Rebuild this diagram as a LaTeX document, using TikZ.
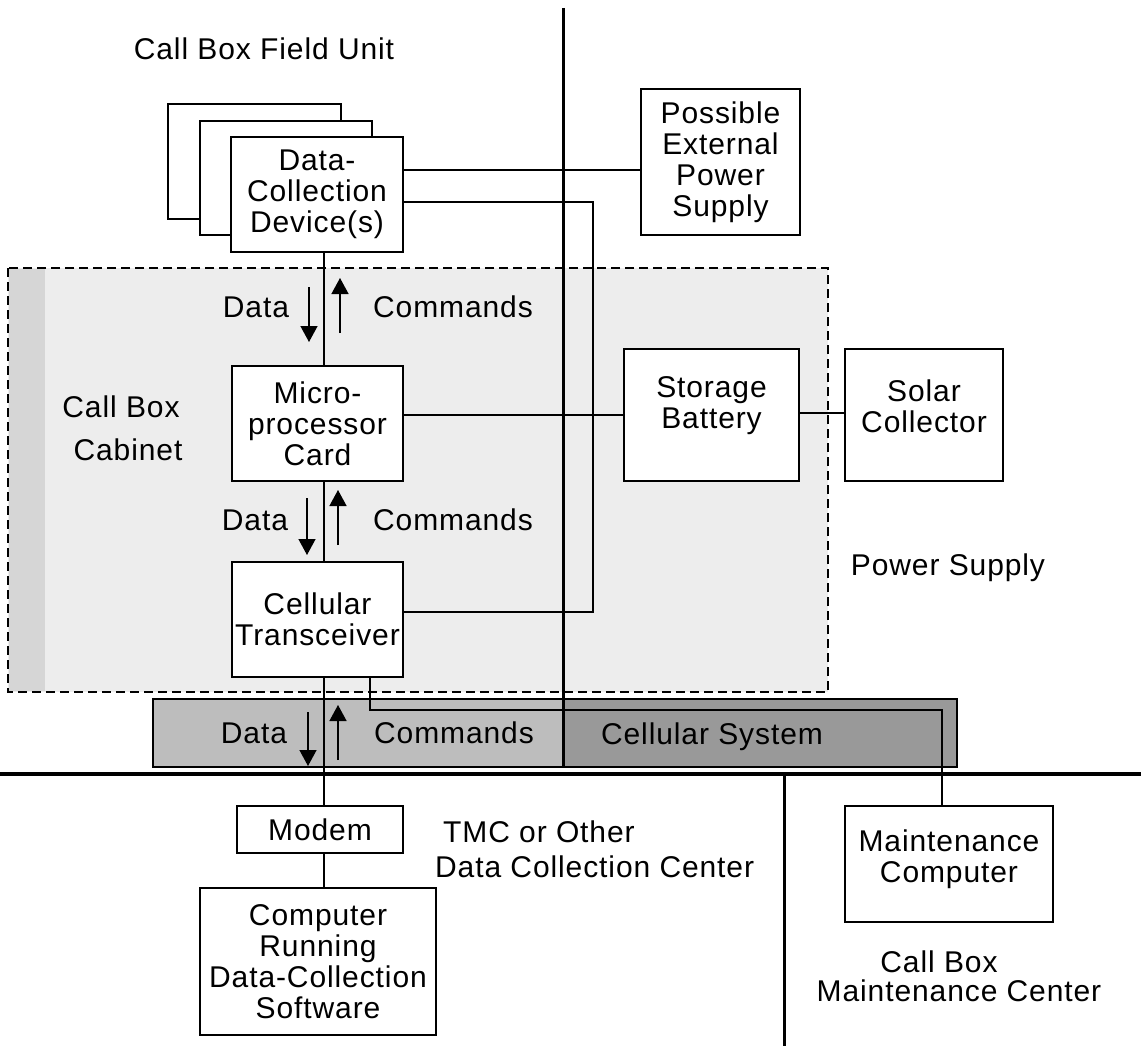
\documentclass[tikz,border=0pt]{standalone}
\usepackage{fontspec}
\newfontfamily\diafont[LetterSpace=3]{Liberation Sans}
\newcommand{\dfont}{\diafont\fontsize{30}{31}\selectfont}
\usetikzlibrary{arrows.meta,calc}
\begin{document}
\begin{tikzpicture}[x=1pt,y=-1pt,
  blk/.style={draw, line width=2.2pt, fill=white, inner sep=0pt, align=center, font=\dfont},
  backbox/.style={draw, line width=2pt, fill=white},
  lbl/.style={inner sep=0pt, align=center, font=\dfont},
  conn/.style={line width=2pt},
  thinconn/.style={line width=1.4pt},
  sig/.style={line width=1.4pt, -{Triangle[width=17pt,length=16pt]}},
  divider/.style={line width=3pt},
  region/.style={draw, dash pattern=on 9pt off 5pt, line width=1.3pt, fill=black!7},
]
\useasboundingbox (0,0) rectangle (1141,1046);

% cabinet / power supply region
\draw[region] (8,268) rectangle (828,692);
\fill[black!16] (9,269) rectangle (45,691);

% cellular band
\fill[black!26] (153,699) rectangle (563,767);
\fill[black!40] (563,699) rectangle (957,767);
\draw[line width=2pt] (153,699) rectangle (957,767);

% dividers
\draw[divider] (563,8) -- (563,767);
\draw[line width=4.5pt] (0,774) -- (1141,774);
\draw[divider] (784,774) -- (784,1046);

% title
\node[lbl] (title) at (264,49) {Call Box Field Unit};

% stacked data collection devices
\draw[backbox] (168,104) rectangle (341,219);
\draw[backbox] (200,121) rectangle (372,235);
\node[blk, minimum width=172pt, minimum height=115pt] (dc) at (317,194.5) {Data-\\Collection\\Device(s)};

\node[blk, minimum width=159pt, minimum height=146pt] (eps) at (720.5,162) {Possible\\External\\Power\\Supply};

\node[blk, minimum width=171pt, minimum height=115pt] (mp) at (317.5,423.5) {Micro-\\processor\\Card};
\node[blk, minimum width=171pt, minimum height=115pt] (ct) at (317.5,619.5) {Cellular\\Transceiver};

\node[blk, minimum width=175pt, minimum height=132pt] (sb) at (711.5,415) {};
\node[lbl] (sbt) at ($(sb.center)+(0,-9)$) {Storage\\Battery};
\node[blk, minimum width=158pt, minimum height=132pt] (sc) at (924,415) {};
\node[lbl] (sct) at ($(sc.center)+(0,-9)$) {Solar\\Collector};

\node[blk, minimum width=166pt, minimum height=47pt] (modem) at (320,829.5) {Modem};
\node[blk, minimum width=236pt, minimum height=147pt] (comp) at (318,961.5) {Computer\\Running\\Data-Collection\\Software};
\node[blk, minimum width=208pt, minimum height=116pt] (mc) at (949,864) {};
\node[lbl] (mct) at ($(mc.center)+(0,-5)$) {Maintenance\\Computer};

% connectors
\coordinate (cx) at (324,0);
\draw[conn] (dc.east |- 0,170) -- (eps.west |- 0,170);
\draw[conn] (dc.east |- 0,202) -- (593,202) -- (593,612) -- (ct.east |- 0,612);
\draw[conn] (mp.east |- 0,415) -- (sb.west |- 0,415);
\draw[conn] (sb.east |- 0,413) -- (sc.west |- 0,413);
\draw[thinconn] (dc.south -| cx) -- (mp.north -| cx);
\draw[thinconn] (mp.south -| cx) -- (ct.north -| cx);
\draw[thinconn] (ct.south -| cx) -- (modem.north -| cx);
\draw[thinconn] (modem.south -| cx) -- (comp.north -| cx);
\draw[conn] (ct.south -| 370,0) -- (370,710) -- (942,710) -- (mc.north -| 942,0);

% data / command arrows
\coordinate (d1s) at (309,287); \coordinate (d1e) at (309,342);
\coordinate (c1s) at (340,333); \coordinate (c1e) at (340,278);
\coordinate (d2s) at (307,498); \coordinate (d2e) at (307,555);
\coordinate (c2s) at (338,545); \coordinate (c2e) at (338,490);
\coordinate (d3s) at (308,712); \coordinate (d3e) at (308,766);
\coordinate (c3s) at (338,760); \coordinate (c3e) at (338,705);
\draw[sig] (d1s) -- (d1e);
\draw[sig] (c1s) -- (c1e);
\draw[sig] (d2s) -- (d2e);
\draw[sig] (c2s) -- (c2e);
\draw[sig] (d3s) -- (d3e);
\draw[sig] (c3s) -- (c3e);

\node[lbl] (dl1) at (256,307) {Data};
\node[lbl] (cl1) at (453,307) {Commands};
\node[lbl] (dl2) at (255,520) {Data};
\node[lbl] (cl2) at (453,520) {Commands};
\node[lbl] (dl3) at (254,733) {Data};
\node[lbl] (cl3) at (454,733) {Commands};

% region labels
\node[lbl] (cab1) at (121,407) {Call Box};
\node[lbl] (cab2) at (128,450) {Cabinet};
\node[lbl] (ps) at (948,568) {Power Supply};
\node[lbl] (cs) at (712,737) {Cellular System};
\node[lbl, anchor=west] (tmc1) at (443,832) {TMC or Other};
\node[lbl, anchor=west] (tmc2) at (435,867) {Data Collection Center};
\node[lbl] (mcc1) at (939,962) {Call Box};
\node[lbl] (mcc2) at (959,991) {Maintenance Center};
\end{tikzpicture}
\end{document}
